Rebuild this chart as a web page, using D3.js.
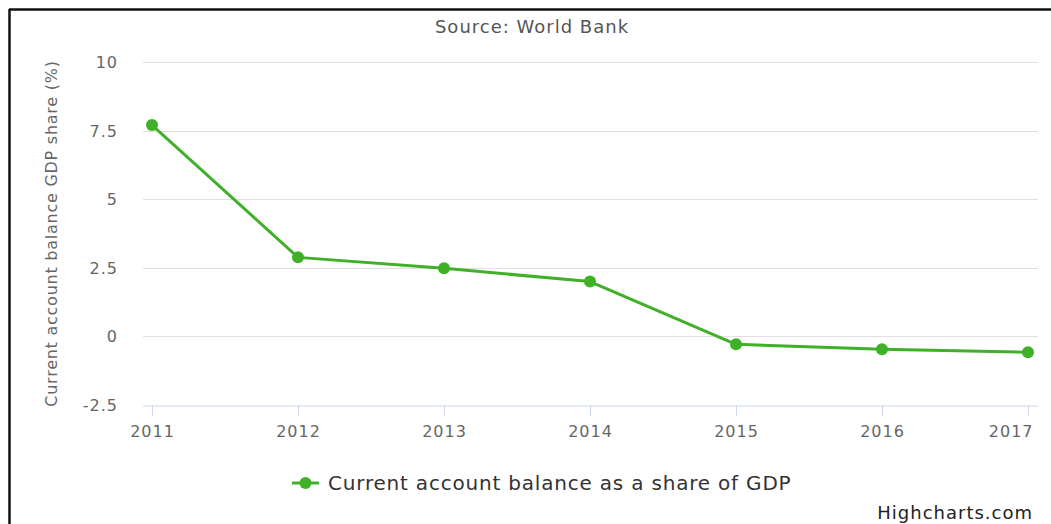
<!DOCTYPE html>
<meta charset="utf-8">
<style>
    body { margin: 0; background: #fff; }
    text { font-family: "DejaVu Sans", sans-serif; }
    .grid line { stroke: #e0e0e0; stroke-width: 1; }
    .x.axis path, .x.axis line { stroke: #ccd6eb; }
</style>
<body>
<script src="https://cdn.jsdelivr.net/npm/d3@7"></script>
<script>

    var years = [2011, 2012, 2013, 2014, 2015, 2016, 2017];
    var balance = [7.7, 2.88, 2.48, 2.0, -0.29, -0.47, -0.58];
    var yTicks = [-2.5, 0, 2.5, 5, 7.5, 10];

    var W = 1051, H = 524;
    var green = "#3fb027";

    var svg = d3.select("body").append("svg")
            .attr("width", W)
            .attr("height", H);

    // frame edges (the screenshot only shows top and left)
    svg.append("line").attr("x1", 9).attr("x2", W).attr("y1", 9.5).attr("y2", 9.5)
            .attr("stroke", "#111").attr("stroke-width", 2.5);
    svg.append("line").attr("x1", 9.5).attr("x2", 9.5).attr("y1", 9).attr("y2", H)
            .attr("stroke", "#111").attr("stroke-width", 2.5);

    var x = d3.scaleLinear()
            .domain([2011, 2017])
            .range([152, 1028]);

    var y = d3.scaleLinear()
            .domain([-2.5, 10])
            .range([405, 62]);

    // gridlines
    svg.append("g").attr("class", "grid")
        .selectAll("line")
        .data(yTicks.filter(function(d) { return d > -2.5; }))
        .enter().append("line")
            .attr("x1", 143).attr("x2", 1038)
            .attr("y1", function(d) { return Math.round(y(d)) + 0.5; })
            .attr("y2", function(d) { return Math.round(y(d)) + 0.5; });

    // y labels
    svg.append("g").attr("class", "y axis")
        .selectAll("text")
        .data(yTicks)
        .enter().append("text")
            .attr("x", 118)
            .attr("y", function(d) { return y(d) + 6; })
            .attr("text-anchor", "end")
            .attr("fill", "#666")
            .style("font-size", "16px")
            .style("letter-spacing", "1px")
            .text(function(d) { return d; });

    // x axis
    var xAxis = d3.axisBottom(x)
            .tickValues(years)
            .tickFormat(d3.format("d"))
            .tickSize(10)
            .tickSizeOuter(0);

    var gx = svg.append("g")
            .attr("class", "x axis")
            .attr("transform", "translate(0," + 405.5 + ")")
            .call(xAxis);
    gx.select(".domain").attr("d", "M143,0.5H1038");
    gx.selectAll("text")
            .attr("y", 31)
            .attr("dy", null)
            .attr("fill", "#666")
            .style("font-size", "16px")
            .style("letter-spacing", "1px")
            .style("font-family", "'DejaVu Sans', sans-serif");
    // last label is pushed inside the chart like Highcharts does
    gx.selectAll(".tick").filter(function(d) { return d === 2017; })
        .select("text")
            .attr("text-anchor", "end")
            .attr("x", 1033 - x(2017));

    // y title
    svg.append("text")
            .attr("transform", "translate(57," + ((62 + 405) / 2) + ") rotate(-90)")
            .attr("text-anchor", "middle")
            .attr("fill", "#666")
            .style("font-size", "16px")
            .style("letter-spacing", "0.75px")
            .text("Current account balance GDP share (%)");

    // title
    svg.append("text")
            .attr("x", 532)
            .attr("y", 33)
            .attr("text-anchor", "middle")
            .attr("fill", "#555")
            .style("font-size", "18px")
            .style("letter-spacing", "1px")
            .text("Source: World Bank");

    // series
    var line = d3.line()
            .x(function(d, i) { return x(years[i]); })
            .y(function(d) { return y(d); });

    svg.append("path")
            .datum(balance)
            .attr("d", line)
            .attr("fill", "none")
            .attr("stroke", green)
            .attr("stroke-width", 3)
            .attr("stroke-linejoin", "round");

    svg.append("g")
        .selectAll("circle")
        .data(balance)
        .enter().append("circle")
            .attr("cx", function(d, i) { return x(years[i]); })
            .attr("cy", function(d) { return y(d); })
            .attr("r", 6)
            .attr("fill", green);

    // legend
    var legend = svg.append("g").attr("transform", "translate(292,483)");
    legend.append("line").attr("x1", 0).attr("x2", 27)
            .attr("stroke", green).attr("stroke-width", 3);
    legend.append("circle").attr("cx", 13.5).attr("r", 6).attr("fill", green);
    legend.append("text")
            .attr("x", 36).attr("y", 7)
            .attr("fill", "#333")
            .style("font-size", "20px")
            .style("letter-spacing", "0.8px")
            .text("Current account balance as a share of GDP");

    // credits
    svg.append("text")
            .attr("x", 1033).attr("y", 519)
            .attr("text-anchor", "end")
            .attr("fill", "#222")
            .style("font-size", "18px")
            .style("letter-spacing", "1px")
            .text("Highcharts.com");

</script>
